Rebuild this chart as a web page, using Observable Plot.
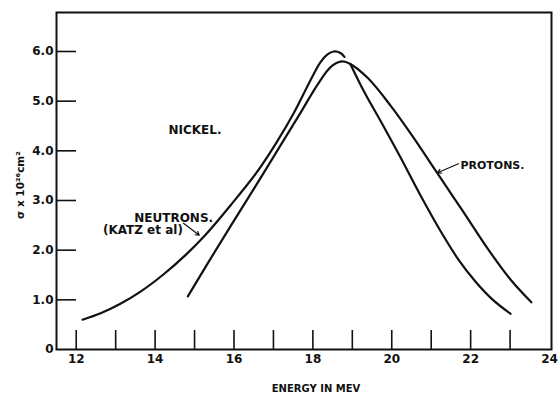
<!DOCTYPE html>
<html>
<head>
<meta charset="utf-8">
<script src="https://cdn.jsdelivr.net/npm/d3@7"></script>
<script src="https://cdn.jsdelivr.net/npm/@observablehq/plot@0.6"></script>
<style>
  html, body { margin: 0; padding: 0; background: #fff; }
  #chart { width: 558px; height: 394px; }
</style>
</head>
<body>
<div id="chart"></div>
<script>
// Photonuclear cross section of nickel: neutron yield (Katz et al) and proton yield vs energy.

// Neutron curve: broad rising side up to the 6.0 peak, then (after a short break) the steep falling side.
const neutronEnergy = [12.16, 12.62, 13.12, 13.63, 14.21, 14.77, 15.28, 15.91, 16.59, 17.08, 17.51, 17.94, 18.19, 18.37, 18.53, 18.70, 18.80,
                       null,
                       18.95, 19.30, 19.71, 20.22, 20.73, 21.24, 21.69, 22.12, 22.55, 23.01];
const neutronSigma  = [0.60, 0.73, 0.92, 1.165, 1.51, 1.90, 2.31, 2.90, 3.58, 4.17, 4.75, 5.42, 5.78, 5.94, 6.00, 5.97, 5.89,
                       null,
                       5.75, 5.19, 4.61, 3.87, 3.10, 2.38, 1.81, 1.37, 1.01, 0.72];

// Proton curve: narrow rising side, peak near 18.7 MeV, long falling side.
const protonEnergy = [14.83, 15.33, 15.91, 16.57, 17.18, 17.69, 18.14, 18.47, 18.74, 18.95,
                      19.40, 19.97, 20.53, 21.13, 21.79, 22.45, 23.01, 23.54];
const protonSigma  = [1.07, 1.73, 2.48, 3.32, 4.11, 4.77, 5.36, 5.70, 5.80, 5.75,
                      5.46, 4.91, 4.29, 3.58, 2.80, 2.01, 1.41, 0.95];

// Axis ticks and labels
const energyTicks  = [12, 13, 14, 15, 16, 17, 18, 19, 20, 21, 22, 23];
const energyLabels = [12, 14, 16, 18, 20, 22, 24];
const sigmaTicks   = [1, 2, 3, 4, 5, 6];
const sigmaLabels  = [0, 1, 2, 3, 4, 5, 6];
const xTitle = "ENERGY IN MEV";
const yTitle = "σ x 10²⁶cm²";

// Hand-lettered notes and their pointers
const noteText   = ["NICKEL.", "NEUTRONS.", "(KATZ et al)", "PROTONS."];
const noteEnergy = [15.01, 14.47, 13.69, 21.74];
const noteSigma  = [4.41, 2.64, 2.40, 3.70];
const noteAnchor = ["middle", "middle", "middle", "start"];

const pointerFrom = [[14.72, 2.54], [21.69, 3.74]];
const pointerTo   = [[15.12, 2.30], [21.16, 3.56]];

const ink = "#111";

const neutrons = neutronEnergy.map((e, i) => ({energy: e, sigma: neutronSigma[i]}));
const protons  = protonEnergy.map((e, i) => ({energy: e, sigma: protonSigma[i]}));
const notes    = noteText.map((t, i) => ({text: t, energy: noteEnergy[i], sigma: noteSigma[i], anchor: noteAnchor[i]}));
const pointers = pointerFrom.map((p, i) => ({x1: p[0], y1: p[1], x2: pointerTo[i][0], y2: pointerTo[i][1]}));

const noteStyle = {x: "energy", y: "sigma", text: "text", fontWeight: "bold", fill: ink, lineAnchor: "middle"};

const chart = Plot.plot({
  width: 558,
  height: 394,
  marginLeft: 56,
  marginRight: 7,
  marginTop: 12,
  marginBottom: 45,
  x: {domain: [11.5, 24.05]},
  y: {domain: [0, 6.785]},
  style: {fontFamily: "DejaVu Sans", fontSize: "12px", color: ink, background: "#fff"},
  marks: [
    Plot.frame({stroke: ink, strokeWidth: 2}),
    Plot.tickX(energyTicks, {x: d => d, stroke: ink, strokeWidth: 1.6, insetTop: 318}),
    Plot.tickY(sigmaTicks, {y: d => d, stroke: ink, strokeWidth: 1.6, insetRight: 475}),
    Plot.axisX(energyLabels, {tickSize: 0, tickPadding: 5, label: null, fontWeight: "bold", fontSize: 12}),
    Plot.axisY(sigmaLabels, {tickSize: 0, tickPadding: 3, label: null, fontWeight: "bold", fontSize: 12,
      tickFormat: d => d === 0 ? "0" : d.toFixed(1)}),
    Plot.text([xTitle], {frameAnchor: "bottom", lineAnchor: "middle", textAnchor: "middle", dx: 12, dy: 39,
      fontSize: 10, fontWeight: "bold", fill: ink}),
    Plot.text([yTitle], {frameAnchor: "left", textAnchor: "middle", lineAnchor: "middle", dx: -36, dy: 4, rotate: -90,
      fontSize: 10.5, fontWeight: "bold", fill: ink}),
    Plot.line(neutrons, {x: "energy", y: "sigma", curve: "catmull-rom", stroke: ink, strokeWidth: 2.2}),
    Plot.line(protons, {x: "energy", y: "sigma", curve: "catmull-rom", stroke: ink, strokeWidth: 2.2}),
    Plot.text(notes, {...noteStyle, filter: d => d.anchor === "middle", textAnchor: "middle", fontSize: 12}),
    Plot.text(notes, {...noteStyle, filter: d => d.anchor === "start", textAnchor: "start", fontSize: 11}),
    Plot.arrow(pointers, {x1: "x1", y1: "y1", x2: "x2", y2: "y2", stroke: ink, strokeWidth: 1.2, headLength: 5})
  ]
});

document.getElementById("chart").appendChild(chart);
</script>
</body>
</html>
